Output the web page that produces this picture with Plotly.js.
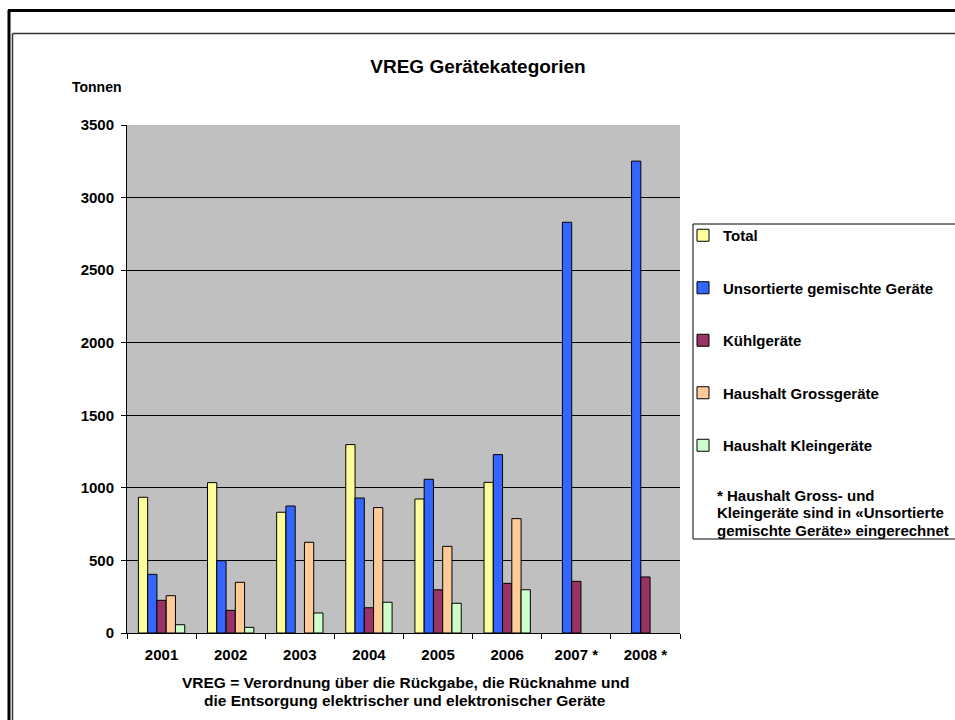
<!DOCTYPE html>
<html>
<head>
<meta charset="utf-8">
<script src="https://cdn.plot.ly/plotly-3.0.1.min.js"></script>
<style>
html,body{margin:0;padding:0;background:#fff;}
#chart{width:955px;height:720px;}
</style>
</head>
<body>
<div id="chart"></div>
<script>
const years = ["2001", "2002", "2003", "2004", "2005", "2006", "2007 *", "2008 *"];
const seriesNames = ["Total", "Unsortierte gemischte Geräte", "Kühlgeräte", "Haushalt Grossgeräte", "Haushalt Kleingeräte"];
const total      = [935, 1036, 832, 1298, 923, 1038, null, null];
const unsortiert = [404, 498, 875, 930, 1059, 1229, 2830, 3251];
const kuehl      = [225, 156, null, 174, 298, 342, 356, 386];
const gross      = [257, 349, 625, 864, 597, 788, null, null];
const klein      = [57, 39, 138, 212, 205, 298, null, null];
const colors = ["#ffff99", "#3366ff", "#993366", "#ffcc99", "#ccffcc"];
const yTicks = [0, 500, 1000, 1500, 2000, 2500, 3000, 3500];
const noteLines = ["* Haushalt Gross- und", "Kleingeräte sind in «Unsortierte", "gemischte Geräte» eingerechnet"];
const captionLines = ["VREG = Verordnung über die Rückgabe, die Rücknahme und", "die Entsorgung elektrischer und elektronischer Geräte"];

const F = "Liberation Sans, Arial, sans-serif";
const values = [total, unsortiert, kuehl, gross, klein];
const traces = values.map((v, i) => ({
  type: "bar",
  name: "<b>" + seriesNames[i] + "</b>",
  x: years,
  y: v,
  legendgroup: "g" + i,
  marker: {color: colors[i], line: {color: "#000", width: 1}},
  hoverinfo: "x+y+name"
}));

// plot area in pixels
const L = 127, R = 680, T = 125, B = 633;
const W = R - L, H = B - T;
const px = x => (x - L) / W;
const py = y => (B - y) / H;

const annotations = [
  {text: "<b>Tonnen</b>", xref: "paper", yref: "paper", x: px(97), y: py(87), xanchor: "center", yanchor: "middle",
   showarrow: false, font: {family: F, size: 14, color: "#000"}}
];
noteLines.forEach((t, i) => annotations.push({
  text: "<b>" + t + "</b>", xref: "paper", yref: "paper", x: px(715), y: py(495 + 17.5 * i),
  xanchor: "left", yanchor: "middle", showarrow: false, align: "left", font: {family: F, size: 15, color: "#000"}
}));
captionLines.forEach((t, i) => annotations.push({
  text: "<b>" + t + "</b>", xref: "paper", yref: "paper", x: px(405), y: py(682 + 18 * i),
  xanchor: "center", yanchor: "middle", showarrow: false, align: "center", font: {family: F, size: 15.5, color: "#000"}
}));

const layout = {
  width: 955, height: 720,
  margin: {l: L, r: 955 - R, t: T, b: 720 - B, pad: 0},
  paper_bgcolor: "#ffffff",
  plot_bgcolor: "#c0c0c0",
  font: {family: F, color: "#000", size: 15},
  title: {text: "<b>VREG Gerätekategorien</b>", font: {family: F, size: 19, color: "#000"},
          x: 478/955, xref: "container", xanchor: "center", y: 1 - 66/720, yref: "container", yanchor: "middle"},
  bargap: 0.33, bargroupgap: 0,
  barmode: "group",
  showlegend: true,
  legend: {x: 683/955, xref: "container", y: 1 - 219/720, yref: "container", xanchor: "left", yanchor: "top",
           bgcolor: "rgba(0,0,0,0)", borderwidth: 0, tracegroupgap: 30,
           font: {family: F, size: 15, color: "#000"}, itemwidth: 30, itemclick: false},
  xaxis: {
    type: "category", tickson: "boundaries", ticks: "outside", ticklen: 5, tickcolor: "#000", tickwidth: 1,
    showline: true, linecolor: "#000", linewidth: 1, showgrid: false, zeroline: false,
    tickfont: {family: F, size: 15, color: "#000"},
    tickprefix: "<b>", ticksuffix: "</b>", ticklabelstandoff: 8,
    title: {text: ""}
  },
  yaxis: {
    range: [0, 3500], tickvals: yTicks, ticktext: yTicks.map(v => "<b>" + v + "</b>"),
    ticks: "outside", ticklen: 5, tickcolor: "#000", tickwidth: 1,
    showline: true, linecolor: "#000", linewidth: 1, showgrid: true, gridcolor: "#000", gridwidth: 1,
    zeroline: false, tickfont: {family: F, size: 15, color: "#000"}, ticklabelstandoff: 4
  },
  annotations: annotations,
  shapes: [
    {type: "line", xref: "paper", yref: "paper", x0: px(8), x1: px(960), y0: py(10.5), y1: py(10.5), line: {color: "#000", width: 3}},
    {type: "line", xref: "paper", yref: "paper", x0: px(9), x1: px(9), y0: py(10), y1: py(725), line: {color: "#000", width: 3}},
    {type: "line", xref: "paper", yref: "paper", x0: px(12.5), x1: px(960), y0: py(33.5), y1: py(33.5), line: {color: "#333", width: 1.5}},
    {type: "line", xref: "paper", yref: "paper", x0: px(12.5), x1: px(12.5), y0: py(33.5), y1: py(725), line: {color: "#333", width: 1.5}},
    {type: "rect", xref: "paper", yref: "paper", x0: px(693), x1: px(965), y0: py(224), y1: py(539),
     line: {color: "#000", width: 1}, fillcolor: "rgba(0,0,0,0)", layer: "below"}
  ]
};

Plotly.newPlot("chart", traces, layout, {displayModeBar: false, staticPlot: true});
</script>
</body>
</html>
